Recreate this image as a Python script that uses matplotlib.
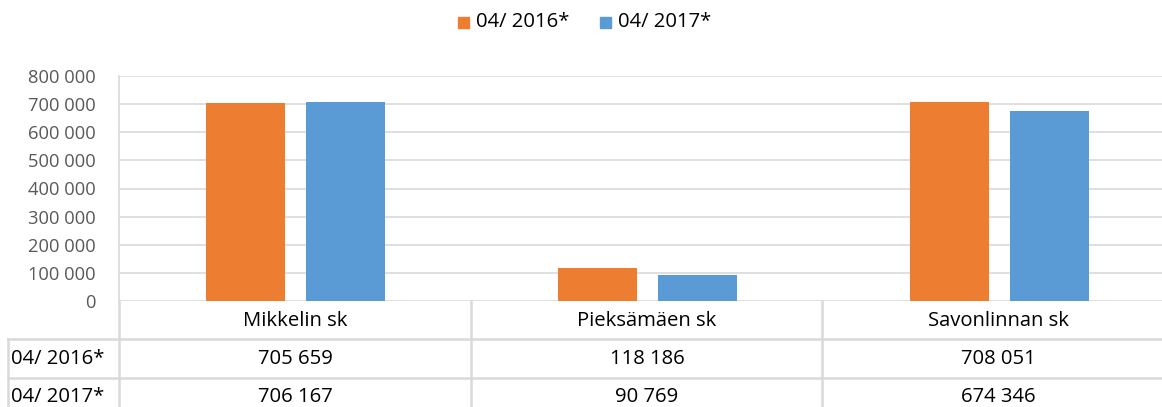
import numpy as np
import matplotlib.pyplot as plt
from matplotlib.lines import Line2D
from matplotlib.patches import Rectangle

W, H = 1162, 407
CATEGORIES = ["Mikkelin sk", "Pieksämäen sk", "Savonlinnan sk"]
SERIES = ["04/ 2016*", "04/ 2017*"]
VALUES_2016 = [705659, 118186, 708051]
VALUES_2017 = [706167, 90769, 674346]
YTICKS = [0, 100000, 200000, 300000, 400000, 500000, 600000, 700000, 800000]

ORANGE = "#ED7D31"
BLUE = "#5B9BD5"
GRID = "#D9D9D9"
TICK = "#595959"
TEXT = "#000000"
FONT = "Open Sans"
FS = 14.6

plt.rcParams.update({"font.family": FONT})


def fx(px):
    return px / W


def fy(py):
    return 1 - py / H


def fmt(v):
    return f"{v:,}".replace(",", " ")


fig = plt.figure(figsize=(W / 100, H / 100), dpi=100)
fig.patch.set_facecolor("white")

left, right, top, bottom = 119, 1175, 76, 301
ax = fig.add_axes([fx(left), fy(bottom), fx(right - left), fy(top) - fy(bottom)])
ax.set_xlim(0, 3)
ax.set_ylim(0, 800000)

x = np.arange(len(CATEGORIES)) + 0.5
bw = 79 / 352
off = 50 / 352
ax.bar(x - off, VALUES_2016, width=bw, color=ORANGE, zorder=3)
ax.bar(x + off, VALUES_2017, width=bw, color=BLUE, zorder=3)

ax.set_yticks(YTICKS)
ax.set_yticklabels([fmt(v) for v in YTICKS], fontsize=13.2, color=TICK)
ax.set_xticks([])
ax.tick_params(axis="y", length=0, pad=17)
ax.grid(True, axis="y", color=GRID, linewidth=1.2, zorder=0)
for name, spine in ax.spines.items():
    spine.set_visible(name == "left")
ax.spines["left"].set_color(GRID)
ax.spines["left"].set_linewidth(1.2)

# data table below the plot
lines = [
    ((8, 1175), (339, 339)),
    ((8, 1175), (378, 378)),
    ((8, 8), (339, 410)),
    ((119, 119), (301, 410)),
    ((471, 471), (301, 410)),
    ((822, 822), (301, 410)),
]
for xs, ys in lines:
    fig.add_artist(Line2D([fx(v) for v in xs], [fy(v) for v in ys],
                          color=GRID, linewidth=1.8))

col_x = [295, 647, 998]
for cx, cat in zip(col_x, CATEGORIES):
    fig.text(fx(cx), fy(321), cat, ha="center", va="center", fontsize=FS, color=TEXT)
for row_y, label, vals in zip([359, 397], SERIES, [VALUES_2016, VALUES_2017]):
    fig.text(fx(11), fy(row_y), label, ha="left", va="center", fontsize=FS, color=TEXT)
    for cx, v in zip(col_x, vals):
        fig.text(fx(cx), fy(row_y), fmt(v), ha="center", va="center", fontsize=FS, color=TEXT)

# legend
for sx, label, color in [(458, SERIES[0], ORANGE), (600, SERIES[1], BLUE)]:
    fig.add_artist(Rectangle((fx(sx), fy(28)), fx(11), fy(17) - fy(28),
                             color=color, transform=fig.transFigure))
    fig.text(fx(sx + 18), fy(22), label, ha="left", va="center", fontsize=FS, color=TEXT)

fig.savefig("out.png", dpi=100, facecolor="white")
